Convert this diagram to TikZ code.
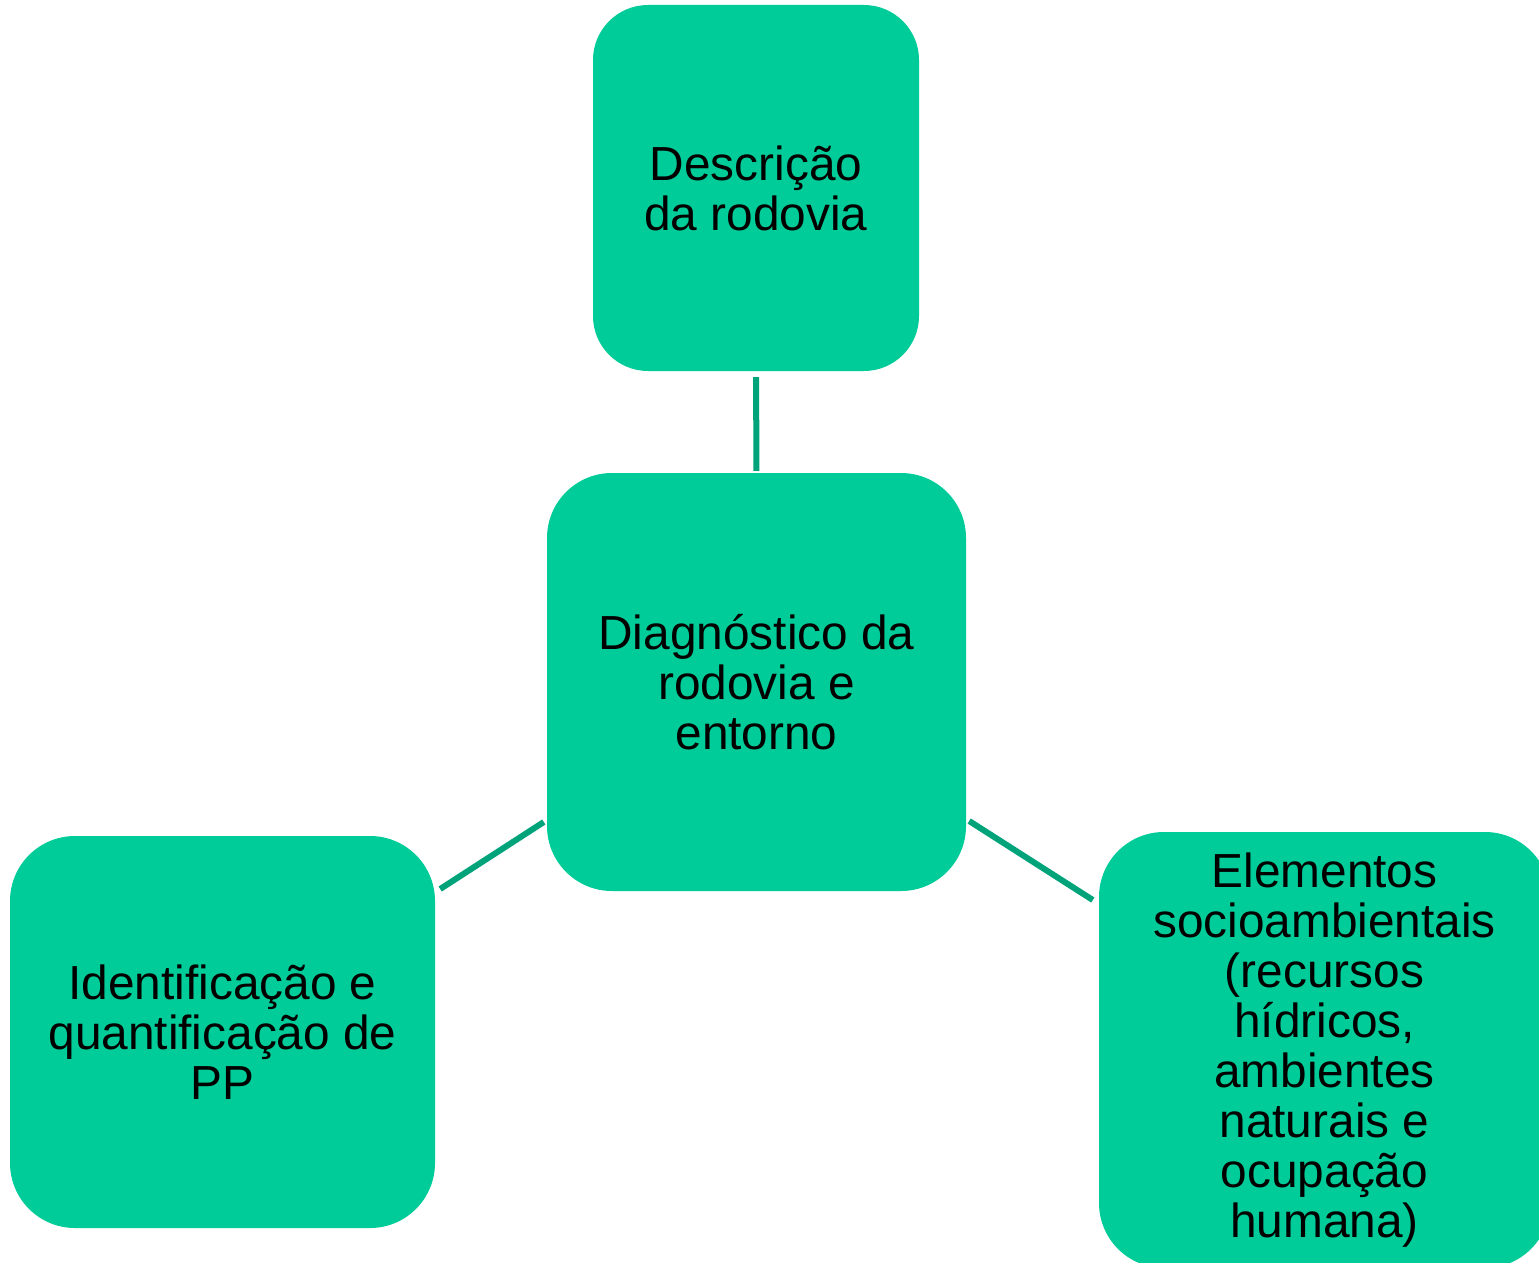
\documentclass[tikz,border=0pt]{standalone}
\usepackage{fontspec}
\setmainfont{Liberation Sans}
\definecolor{boxfill}{HTML}{00CC99}
\definecolor{connc}{HTML}{00A37A}
\begin{document}
\begin{tikzpicture}[x=1pt,y=1pt,
  box/.style={fill=boxfill, draw=none, align=center, inner sep=0pt,
    font=\fontsize{47.8}{50}\selectfont, text=black},
  conn/.style={draw=connc, line width=6pt}]
\useasboundingbox (0,0) rectangle (1539,-1263);
\clip (0,0) rectangle (1539,-1263);
\node[box, minimum width=326, minimum height=366, rounded corners=55] (top) at (756,-188) {Descrição\\da rodovia};
\node[box, minimum width=419, minimum height=418, rounded corners=65] (c) at (756.5,-682) {Diagnóstico da\\rodovia e\\entorno};
\node[box, minimum width=425, minimum height=392, rounded corners=65] (l) at (222.5,-1032) {Identificação e\\quantificação de\\PP};
\node[box, minimum width=451, minimum height=436, rounded corners=65] (r) at (1324.5,-1050) {Elementos\\socioambientais\\(recursos\\hídricos,\\ambientes\\naturais e\\ocupação\\humana)};
\draw[conn, shorten <=6pt, shorten >=2pt] (top.south) -- (c.north);
\draw[conn] ([shift={(-3,-140)}]c.west) -- ([shift={(5,143)}]l.east);
\draw[conn] ([shift={(3,-139)}]c.east) -- ([shift={(-6,150)}]r.west);
\end{tikzpicture}
\end{document}
